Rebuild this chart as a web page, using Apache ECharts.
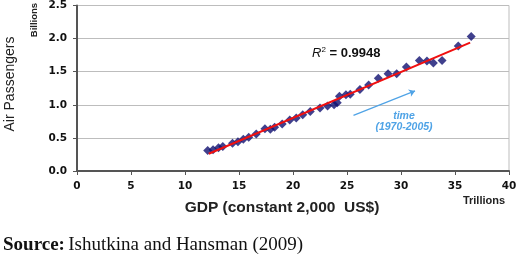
<!DOCTYPE html>
<html>
<head>
<meta charset="utf-8">
<script src="https://cdn.jsdelivr.net/npm/echarts@6/dist/echarts.min.js"></script>
<style>
  html, body { margin: 0; padding: 0; background: #fff; }
  #main { width: 520px; height: 257px; }
</style>
</head>
<body>
<div id="main"></div>
<script type="text/javascript">
// GDP (trillions, constant 2000 US$) vs air passengers (billions), 1970-2005
var gdp = [12.1, 12.6, 13.1, 13.5, 14.4, 14.9, 15.4, 15.9, 16.6, 17.4,
           17.9, 18.3, 19.0, 19.7, 20.3, 20.9, 21.6, 22.5, 23.2, 23.8,
           24.1, 24.3, 24.9, 25.3, 26.2, 27.0, 27.9, 28.8, 29.6, 30.5,
           31.7, 32.4, 33.0, 33.8, 35.3, 36.5];
var passengers = [0.31, 0.32, 0.35, 0.37, 0.42, 0.44, 0.48, 0.51, 0.56, 0.64,
                  0.63, 0.66, 0.71, 0.77, 0.80, 0.85, 0.90, 0.95, 0.98, 1.00,
                  1.03, 1.13, 1.15, 1.16, 1.23, 1.30, 1.40, 1.47, 1.47, 1.57,
                  1.67, 1.66, 1.63, 1.67, 1.89, 2.03];
// linear fit drawn in red, end points
var trendX = [12.2, 36.4];
var trendY = [0.26, 1.94];
var xTicks = [0, 5, 10, 15, 20, 25, 30, 35, 40];
var yTicks = [0.0, 0.5, 1.0, 1.5, 2.0, 2.5];

var chart = echarts.init(document.getElementById('main'));

var option = {
  animation: false,
  grid: { left: 77, right: 11, top: 5, bottom: 86, show: true, borderColor: '#bdbdbd', borderWidth: 1 },
  xAxis: {
    type: 'value', min: 0, max: 40, interval: 5,
    axisLine: { show: true, onZero: false, lineStyle: { color: '#555', width: 2 } },
    axisTick: { show: true, inside: false, length: 4, lineStyle: { color: '#555' } },
    splitLine: { show: false },
    axisLabel: { margin: 10, fontFamily: 'DejaVu Sans', fontWeight: 'bold', fontSize: 10.5, color: '#111' }
  },
  yAxis: {
    type: 'value', min: 0, max: 2.5, interval: 0.5,
    axisLine: { show: true, onZero: false, lineStyle: { color: '#555', width: 2 } },
    axisTick: { show: true, inside: false, length: 4, lineStyle: { color: '#555' } },
    splitLine: { show: true, lineStyle: { color: '#bdbdbd', width: 1 } },
    axisLabel: {
      margin: 10, fontFamily: 'DejaVu Sans', fontWeight: 'bold', fontSize: 10.5, color: '#111',
      formatter: function (v) { return v.toFixed(1); }
    }
  },
  series: [
    {
      type: 'scatter',
      name: 'Air Passengers',
      symbol: 'diamond',
      symbolSize: 9,
      itemStyle: { color: '#101070' },
      data: gdp.map(function (g, i) { return [g, passengers[i]]; }),
      z: 2
    },
    {
      type: 'line',
      name: 'Trend',
      showSymbol: false,
      lineStyle: { color: '#f01010', width: 2 },
      data: trendX.map(function (t, i) { return [t, trendY[i]]; }),
      z: 3,
      markLine: {
        silent: true,
        symbol: ['none', 'arrow'],
        symbolSize: 6,
        label: { show: false },
        lineStyle: { color: '#4fa3e6', width: 1.2, type: 'solid' },
        data: [[{ coord: [25.6, 0.84] }, { coord: [31.3, 1.21] }]]
      }
    }
  ],
  graphic: [
    {
      type: 'text', x: 10, y: 84, rotation: Math.PI / 2,
      style: { text: 'Air Passengers', font: '14px "Liberation Sans"', fill: '#222', textAlign: 'center', textVerticalAlign: 'middle' }
    },
    {
      type: 'text', x: 34, y: 20, rotation: Math.PI / 2,
      style: { text: 'Billions', font: 'bold 9.5px "Liberation Sans"', fill: '#222', textAlign: 'center', textVerticalAlign: 'middle' }
    },
    {
      type: 'text', x: 282, y: 208,
      style: { text: 'GDP (constant 2,000  US$)', font: 'bold 15.5px "Liberation Sans"', fill: '#222', textAlign: 'center', textVerticalAlign: 'middle' }
    },
    {
      type: 'text', x: 484, y: 201,
      style: { text: 'Trillions', font: 'bold 11px "Liberation Sans"', fill: '#222', textAlign: 'center', textVerticalAlign: 'middle' }
    },
    {
      type: 'text', x: 312, y: 53,
      style: {
        text: '{i|R}{s|2}{n| = 0.9948}',
        textVerticalAlign: 'middle',
        rich: {
          i: { font: 'italic 13px "Liberation Sans"', fill: '#111' },
          s: { font: '8px "Liberation Sans"', fill: '#111', verticalAlign: 'top', padding: [0, 0, 6, 0] },
          n: { font: 'bold 13px "Liberation Sans"', fill: '#111' }
        }
      }
    },
    {
      type: 'text', x: 404, y: 116,
      style: { text: 'time', font: 'bold italic 10.5px "Liberation Sans"', fill: '#4fa3e6', textAlign: 'center', textVerticalAlign: 'middle' }
    },
    {
      type: 'text', x: 404, y: 127,
      style: { text: '(1970-2005)', font: 'bold italic 10.5px "Liberation Sans"', fill: '#4fa3e6', textAlign: 'center', textVerticalAlign: 'middle' }
    },
    {
      type: 'text', x: 3, y: 245,
      style: {
        text: '{b|Source:} {r|Ishutkina and Hansman (2009)}',
        textVerticalAlign: 'middle',
        rich: {
          b: { font: 'bold 19px "Liberation Serif"', fill: '#111' },
          r: { font: '19px "Liberation Serif"', fill: '#111' }
        }
      }
    }
  ]
};

chart.setOption(option);
</script>
</body>
</html>
